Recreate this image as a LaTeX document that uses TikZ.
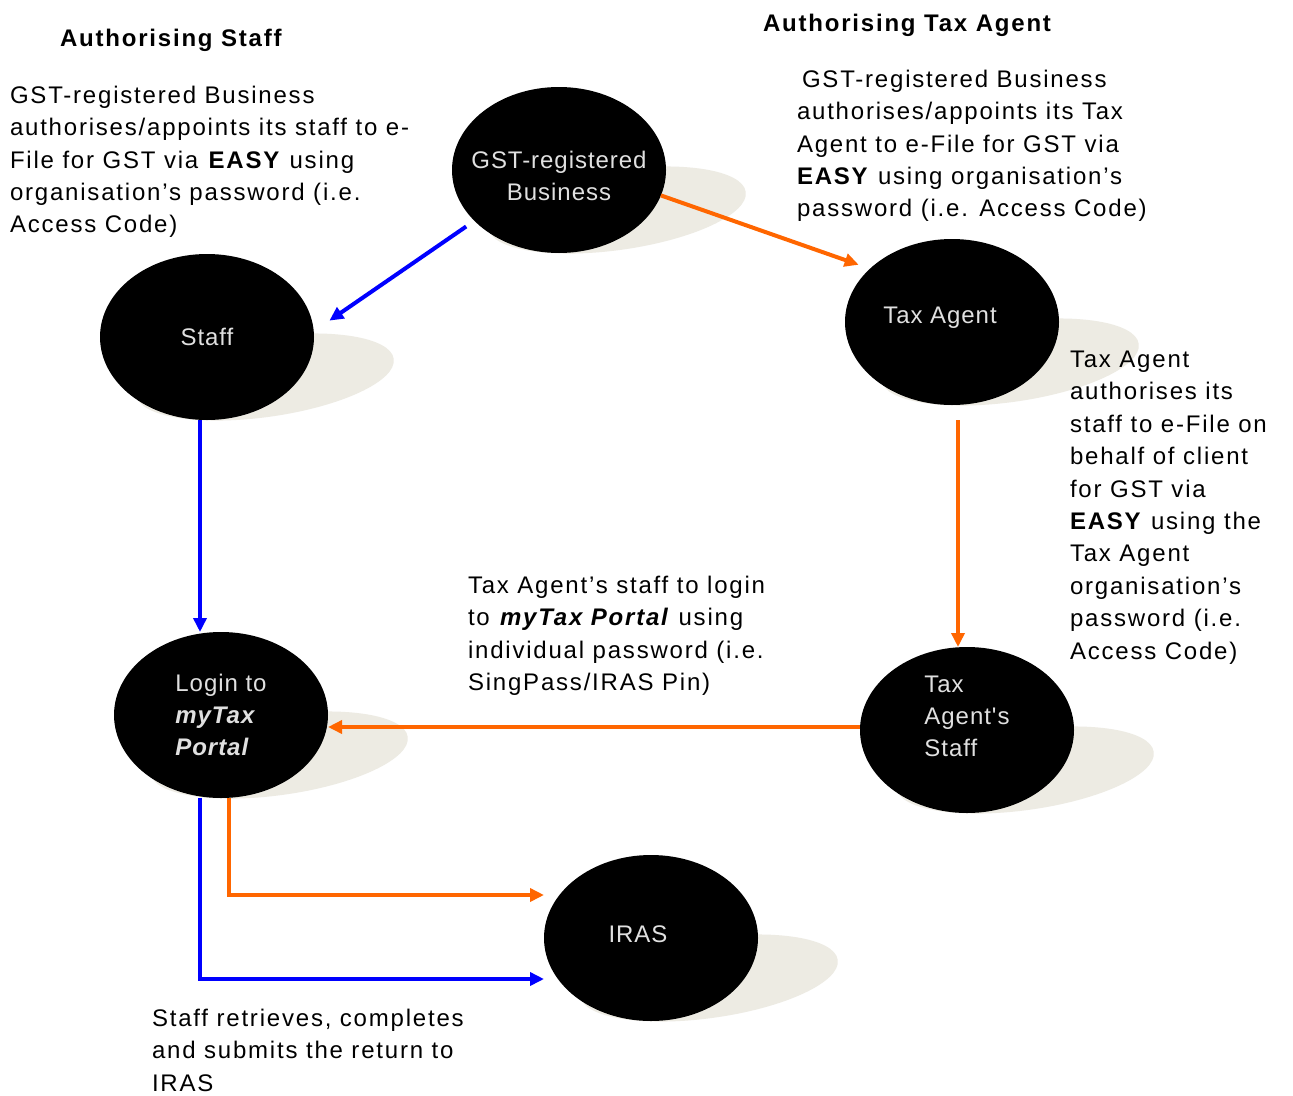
\documentclass[tikz,border=0pt]{standalone}
\usepackage{fontspec}
\setmainfont[LetterSpace=7.5]{Liberation Sans}
\newfontfamily\bubblefont[LetterSpace=4]{Liberation Sans}
\usetikzlibrary{arrows.meta,shapes.geometric}
\pgfdeclarelayer{background}
\pgfsetlayers{background,main}

\begin{document}
\begin{tikzpicture}[x=1pt,y=-1pt,
  bubble/.style={ellipse,fill=black,minimum width=214pt,minimum height=166pt,inner sep=0pt,outer sep=0pt},
  bubbletext/.style={text=textColor,font=\bubblefont\fontsize{24}{32}\selectfont,inner sep=0pt},
  note/.style={anchor=north west,inner sep=0pt,outer sep=0pt,align=left,font=\fontsize{24}{32.4}\selectfont},
  heading/.style={note,font=\bfseries\fontsize{24}{32.4}\selectfont},
  dropshadow/.style={fill=shadowColor},
  link/.style={line width=4pt,-{Triangle[length=14pt,width=13pt]}}]
\definecolor{shadowColor}{rgb}{0.93,0.92,0.89}
\definecolor{blueColor}{rgb}{0.00,0.00,1.00}
\definecolor{orangeColor}{rgb}{1.00,0.40,0.00}
\definecolor{textColor}{rgb}{0.88,0.88,0.88}
\path[use as bounding box] (0,0) rectangle (1293,1095);

\node[bubble] (gst) at (559,170) {};
\node[bubble] (staff) at (207,337) {};
\node[bubble] (agent) at (952,322) {};
\node[bubble] (login) at (221,715) {};
\node[bubble] (agentstaff) at (967,730) {};
\node[bubble] (iras) at (651,938) {};

\node[bubbletext,align=center] (gsttext) at ([yshift=-6pt]gst.center) {GST-registered\\Business};
\node[bubbletext] (stafftext) at (staff.center) {Staff};
\node[bubbletext] (agenttext) at ([xshift=-12pt,yshift=4pt]agent.center) {Tax Agent};
\node[bubbletext,align=left] (logintext) at (login.center) {Login to\\\textbf{\textit{myTax}}\\\textbf{\textit{Portal}}};
\node[bubbletext,align=left] (agentstafftext) at ([yshift=14pt]agentstaff.center) {Tax\\Agent's\\Staff};
\node[bubbletext] (irastext) at ([xshift=-13pt,yshift=4pt]iras.center) {IRAS};

\begin{pgfonlayer}{background}
\fill[white] (0,0) rectangle (1293,1095);
\foreach \n in {gst,staff,agent,login,agentstaff,iras}
  \fill[dropshadow] ([shift={(58,40)}]\n.center) ellipse [x radius=130, y radius=40, rotate=8];
\end{pgfonlayer}

\draw[link,blueColor,shorten <=10pt,shorten >=19pt] (gst.211) -- (staff.3);
\draw[link,orangeColor,shorten >=12pt] (gst.346) -- (agent.147);
\draw[link,blueColor] ([xshift=-7pt]staff.south) -- ([xshift=-7pt]staff.south |- login.north);
\draw[link,orangeColor,shorten <=15pt] ([xshift=6pt]agent.south) -- ([xshift=6pt]agent.south |- agentstaff.north);
\draw[link,orangeColor] ([yshift=3pt]agentstaff.west) -- ([yshift=3pt]agentstaff.west -| login.east);
\draw[link,orangeColor] ([xshift=8pt]login.south) |- ([yshift=43pt]iras.west);
\draw[link,blueColor] ([xshift=-21pt]login.south) |- ([yshift=-41pt]iras.west);

\node[heading] (staffhead) at (60,29) {Authorising Staff};
\node[note] (staffnote) at (10,86) {GST-registered Business\\authorises/appoints its staff to e-\\File for GST via \textbf{EASY} using\\organisation's password (i.e.\\Access Code)};
\node[heading] (agenthead) at (763,14) {Authorising Tax Agent};
\node[note] (agentnote) at (797,70) {\hspace*{5pt}GST-registered Business\\authorises/appoints its Tax\\Agent to e-File for GST via\\\textbf{EASY} using organisation's\\password (i.e. Access Code)};
\node[note] (staffauthnote) at (1070,351) {Tax Agent\\authorises its\\staff to e-File on\\behalf of client\\for GST via\\\textbf{EASY} using the\\Tax Agent\\organisation's\\password (i.e.\\Access Code)};
\node[note] (loginnote) at (468,576) {Tax Agent's staff to login\\to \textbf{\textit{myTax Portal}} using\\individual password (i.e.\\SingPass/IRAS Pin)};
\node[note] (submitnote) at (152,1009) {Staff retrieves, completes\\and submits the return to\\IRAS};
\end{tikzpicture}
\end{document}
